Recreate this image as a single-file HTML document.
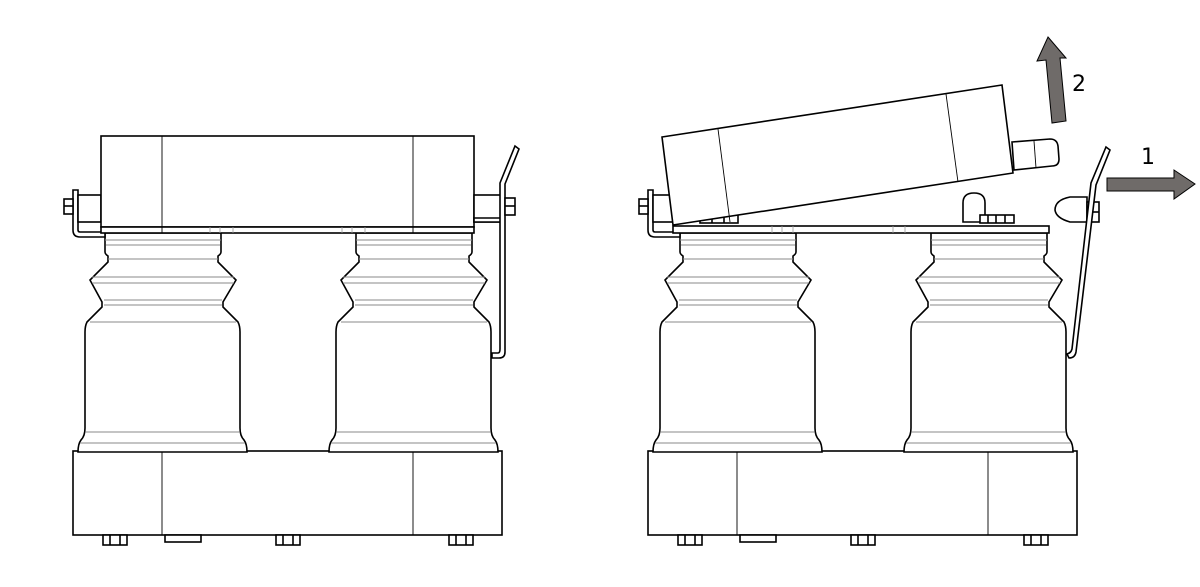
<!DOCTYPE html>
<html><head><meta charset="utf-8"><style>
html,body{margin:0;padding:0;background:#fff;width:1200px;height:587px;overflow:hidden}
</style></head><body>
<svg width="1200" height="587" viewBox="0 0 1200 587" xmlns="http://www.w3.org/2000/svg">
<defs>
<g id="ins" fill="#fff" stroke="#000" stroke-width="1.6">
  <path d="M105,233 H221 V252 Q221,254 218,256 V262 L236,280 L223,302 V307 L238,322 Q240,326 240,332 V428 Q240,436 244,440 Q247,444 247,452 H78 Q78,444 81,440 Q85,436 85,428 V332 Q85,326 87,322 L102,307 V302 L90,280 L108,262 V256 Q105,254 105,252 Z"/>
  <g stroke="#888" stroke-width="1" fill="none">
    <line x1="105" y1="240" x2="221" y2="240"/><line x1="106" y1="245" x2="220" y2="245"/>
    <line x1="108" y1="259" x2="218" y2="259"/>
    <line x1="92" y1="277" x2="234" y2="277"/><line x1="92" y1="283" x2="234" y2="283"/>
    <line x1="104" y1="300" x2="222" y2="300"/><line x1="104" y1="305" x2="222" y2="305"/>
    <line x1="90" y1="322" x2="236" y2="322"/><line x1="86" y1="432" x2="239" y2="432"/>
    <line x1="80" y1="443" x2="245" y2="443"/>
  </g>
</g>
<g id="base" fill="#fff" stroke="#000" stroke-width="1.6">
  <rect x="73" y="451" width="429" height="84"/>
  <line x1="162" y1="451" x2="162" y2="535" stroke-width="0.9"/>
  <line x1="413" y1="451" x2="413" y2="535" stroke-width="0.9"/>
  <rect x="103" y="535" width="24" height="10"/><line x1="110" y1="535" x2="110" y2="545"/><line x1="120" y1="535" x2="120" y2="545"/>
  <rect x="276" y="535" width="24" height="10"/><line x1="283" y1="535" x2="283" y2="545"/><line x1="293" y1="535" x2="293" y2="545"/>
  <rect x="449" y="535" width="24" height="10"/><line x1="456" y1="535" x2="456" y2="545"/><line x1="466" y1="535" x2="466" y2="545"/>
  <rect x="165" y="535" width="36" height="7"/>
</g>
<g id="leftbr" fill="#fff" stroke="#000" stroke-width="1.6">
  <path d="M73,190 H78 V230 Q78,232 80,232 H105 V237 H80 Q73,237 73,230 Z"/>
  <rect x="78" y="195" width="23" height="27"/>
  <rect x="64" y="199" width="9" height="15"/><line x1="64" y1="206" x2="73" y2="206"/>
</g>
</defs>

<use href="#base"/>
<use href="#ins"/>
<use href="#ins" x="251"/>
<use href="#leftbr"/>
<g fill="#fff" stroke="#000" stroke-width="1.6">
  <rect x="101" y="136" width="373" height="91"/>
  <rect x="101" y="227" width="373" height="6"/>
  <line x1="162" y1="136" x2="162" y2="233" stroke-width="0.9"/>
  <line x1="413" y1="136" x2="413" y2="233" stroke-width="0.9"/>
  <g stroke="#999" stroke-width="0.8"><line x1="210" y1="227" x2="210" y2="233"/><line x1="220" y1="227" x2="220" y2="233"/><line x1="233" y1="227" x2="233" y2="233"/><line x1="342" y1="227" x2="342" y2="233"/><line x1="352" y1="227" x2="352" y2="233"/><line x1="365" y1="227" x2="365" y2="233"/></g>
  <rect x="474" y="195" width="29" height="27"/>
  <path d="M474,218 H503 V222 H474 Z"/>
  <path d="M515,146 L519,149 L505,184 V352 Q505,358 499,358 H492 V353 H498 Q500,353 500,349 V183 Z"/>
  <rect x="505" y="198" width="10" height="17"/><line x1="505" y1="206" x2="515" y2="206"/>
</g>

<use href="#base" x="575"/>
<use href="#ins" x="575"/>
<use href="#ins" x="826"/>
<use href="#leftbr" x="575"/>
<g fill="#fff" stroke="#000" stroke-width="1.6">
  <rect x="673" y="226" width="376" height="7"/>
  <g stroke="#999" stroke-width="0.8"><line x1="772" y1="226" x2="772" y2="233"/><line x1="782" y1="226" x2="782" y2="233"/><line x1="793" y1="226" x2="793" y2="233"/><line x1="893" y1="226" x2="893" y2="233"/><line x1="905" y1="226" x2="905" y2="233"/></g>
  <rect x="700" y="215" width="38" height="8"/><line x1="712" y1="215" x2="712" y2="223"/><line x1="724" y1="215" x2="724" y2="223"/>
  <path d="M963,222 V203 Q963,193 974,193 Q985,193 985,203 V222 Z"/>
  <rect x="980" y="215" width="34" height="8"/><line x1="988" y1="215" x2="988" y2="223"/><line x1="996" y1="215" x2="996" y2="223"/><line x1="1005" y1="215" x2="1005" y2="223"/>
  <path d="M1012,142 L1050,139 Q1057,139 1058,146 L1059,159 Q1059,166 1052,166 L1014,170 Z"/>
  <line x1="1034" y1="141" x2="1036" y2="168" stroke-width="0.9"/>
  <path d="M662,137 L1002,85 L1013,173 L673,225 Z"/>
  <line x1="718" y1="129" x2="730" y2="222" stroke-width="0.9"/>
  <line x1="946" y1="94" x2="958" y2="182" stroke-width="0.9"/>
  <path d="M1087,197 H1070 Q1055,200 1055,210 Q1056,218 1070,222 H1087 Z"/>
  <rect x="1087" y="202" width="12" height="20"/><line x1="1087" y1="212" x2="1099" y2="212"/>
  <path d="M1106,147 L1110,150 L1096,185 L1076,352 Q1075,358 1069,358 L1067,354 Q1071,353 1072,349 L1091,183 Z"/>
</g>
<g fill="#6f6b69" stroke="#000" stroke-width="1">
  <path d="M1048,37 L1066,58 L1060,58 L1066,121 L1052,123 L1046,60 L1037,61 Z"/>
  <path d="M1107,178 H1174 V170 L1195,184 L1174,199 V191 H1107 Z"/>
</g>
<text x="1072" y="91" font-family="'DejaVu Sans','Liberation Sans',sans-serif" font-size="22" fill="#000">2</text>
<text x="1141" y="164" font-family="'DejaVu Sans','Liberation Sans',sans-serif" font-size="22" fill="#000">1</text>
</svg>
</body></html>
